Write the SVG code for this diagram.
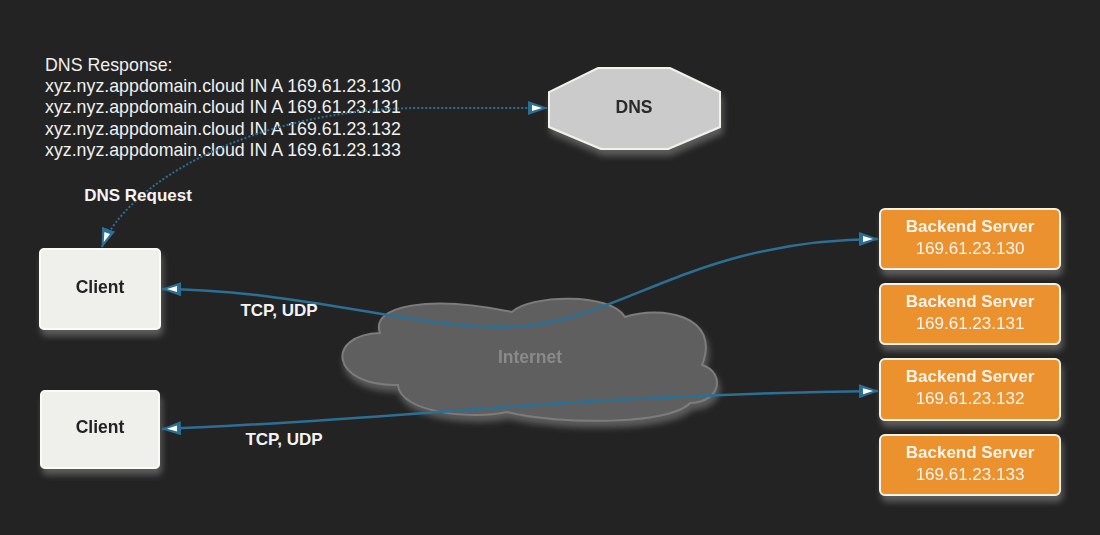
<svg xmlns="http://www.w3.org/2000/svg" width="1100" height="535" viewBox="0 0 1100 535">
<style>
text{font-family:"Liberation Sans",Arial,sans-serif}
.resp{font-size:17.8px;fill:#f0f0f0}
.lbl{font-size:17px;font-weight:bold;fill:#f4f4f4}
.client rect{fill:#efefeb;stroke:#fbfbf7;stroke-width:2}
.client text{font-size:17.5px;font-weight:bold;fill:#222}
.srv rect{fill:#eb922e;stroke:#f7f2e6;stroke-width:2}
.srv .t{font-size:17px;font-weight:bold;fill:#f8f4ec}
.srv .ip{font-size:17px;fill:#f8f4ec}
.conn{fill:none;stroke:#2b6f95;stroke-width:2.5}
.dot{fill:none;stroke:#2b6f95;stroke-width:2;stroke-dasharray:2 2}
</style>
<defs>
<filter id="sh" x="-20%" y="-30%" width="140%" height="170%">
<feGaussianBlur in="SourceAlpha" stdDeviation="3" result="b"/>
<feOffset in="b" dx="2" dy="6" result="o"/>
<feFlood flood-color="#5c5c5c" flood-opacity="1"/>
<feComposite in2="o" operator="in" result="s"/>
<feMerge><feMergeNode in="s"/><feMergeNode in="SourceGraphic"/></feMerge>
</filter>
<marker id="ah" viewBox="0 0 20 14" refX="19" refY="7" markerWidth="20" markerHeight="14" markerUnits="userSpaceOnUse" orient="auto-start-reverse">
<path d="M0,0 L20,7 L0,14 Z" fill="#2b6f95"/>
<path d="M4,4 L14,7 L4,10 Z" fill="#ffffff"/>
</marker>
</defs>
<rect width="1100" height="535" fill="#232323"/>

<g id="dns-response">
<text class="resp" x="45" y="71">DNS Response:</text>
<text class="resp" x="45" y="92">xyz.nyz.appdomain.cloud IN A 169.61.23.130</text>
<text class="resp" x="45" y="113">xyz.nyz.appdomain.cloud IN A 169.61.23.131</text>
<text class="resp" x="45" y="135">xyz.nyz.appdomain.cloud IN A 169.61.23.132</text>
<text class="resp" x="45" y="156">xyz.nyz.appdomain.cloud IN A 169.61.23.133</text>
</g>

<g id="internet" filter="url(#sh)">
<path d="M380,333 C370,305 430,295 512,312 C530,295 610,292 625,317 C660,305 722,315 702,365 C725,372 722,402 690,403 C670,425 560,425 507,412 C470,420 400,412 398,385 C330,386 325,335 380,333 Z" fill="#5e5e5e" stroke="#7c7c7c" stroke-width="2"/>
<text x="530" y="363" text-anchor="middle" font-size="17.5" font-weight="bold" fill="#8a8a8a">Internet</text>
</g>

<g id="dns" filter="url(#sh)">
<polygon points="598,68 670,68 720,92 720,127 668,149 601,149 549,127 549,92" fill="#cbcbcb" stroke="#f2f2ec" stroke-width="2"/>
<text x="634" y="113" text-anchor="middle" font-size="17.5" font-weight="bold" fill="#2a2a2a">DNS</text>
</g>

<g id="client1" class="client" filter="url(#sh)">
<rect x="40" y="249" width="120" height="80" rx="4"/>
<text x="100" y="293" text-anchor="middle">Client</text>
</g>
<g id="client2" class="client" filter="url(#sh)">
<rect x="41" y="391" width="118" height="77" rx="4"/>
<text x="100" y="433" text-anchor="middle">Client</text>
</g>

<g id="backend1" class="srv" filter="url(#sh)">
<rect x="880" y="209" width="180" height="60" rx="5"/>
<text class="t" x="970" y="232" text-anchor="middle">Backend Server</text>
<text class="ip" x="970" y="254" text-anchor="middle">169.61.23.130</text>
</g>
<g id="backend2" class="srv" filter="url(#sh)">
<rect x="880" y="284" width="180" height="60" rx="5"/>
<text class="t" x="970" y="307" text-anchor="middle">Backend Server</text>
<text class="ip" x="970" y="329" text-anchor="middle">169.61.23.131</text>
</g>
<g id="backend3" class="srv" filter="url(#sh)">
<rect x="880" y="359" width="180" height="61" rx="5"/>
<text class="t" x="970" y="382" text-anchor="middle">Backend Server</text>
<text class="ip" x="970" y="404" text-anchor="middle">169.61.23.132</text>
</g>
<g id="backend4" class="srv" filter="url(#sh)">
<rect x="880" y="435" width="180" height="60" rx="5"/>
<text class="t" x="970" y="458" text-anchor="middle">Backend Server</text>
<text class="ip" x="970" y="480" text-anchor="middle">169.61.23.133</text>
</g>

<g id="connectors">
<path class="dot" d="M102,247 C125,185 250,109 420,108 L547,108" marker-start="url(#ah)" marker-end="url(#ah)"/>
<path class="conn" d="M162,289 C300,290 420,330 512,327 C620,323 690,240 878,239" marker-start="url(#ah)" marker-end="url(#ah)"/>
<path class="conn" d="M162,429 C400,420 560,395 878,391" marker-start="url(#ah)" marker-end="url(#ah)"/>
<text class="lbl" x="138" y="201" text-anchor="middle">DNS Request</text>
<text class="lbl" x="279" y="316" text-anchor="middle">TCP, UDP</text>
<text class="lbl" x="284" y="445" text-anchor="middle">TCP, UDP</text>
</g>
</svg>
